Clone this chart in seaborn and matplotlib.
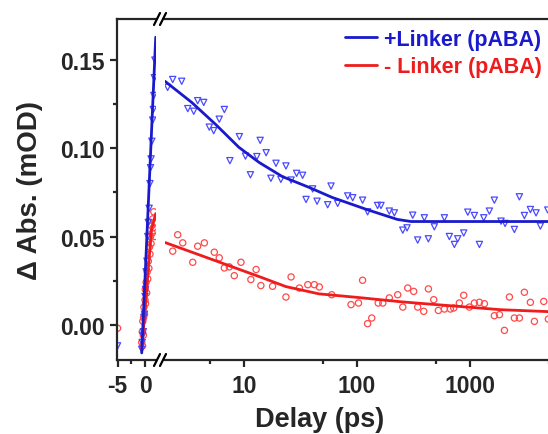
import numpy as np
import pandas as pd
import seaborn as sns
import matplotlib.pyplot as plt

# --- data ---
# rise part (linear delay axis, ps)
blue_rise_t = [-5.0, -0.6, -0.5, -0.4, -0.3, -0.2, -0.1, 0.0, 0.1, 0.2, 0.35, 0.5, 0.6, 0.75,
               0.9, 1.0, 1.1, 1.25, 1.4, 1.5, 1.6, 1.7, 1.8]
blue_rise_y = [-0.012, -0.014, -0.010, -0.006, -0.004, 0.004, 0.006, 0.016, 0.020, 0.030, 0.036,
               0.050, 0.058, 0.066, 0.080, 0.089, 0.094, 0.104, 0.116, 0.122, 0.130, 0.140, 0.150]
red_rise_t = [-5.0, -0.6, -0.5, -0.45, -0.4, -0.3, -0.25, -0.2, -0.1, 0.0, 0.05, 0.1, 0.2, 0.3,
              0.4, 0.5, 0.6, 0.7, 0.8, 0.9, 1.0, 1.1, 1.2, 1.3, 1.4, 1.5, 1.6, 1.7, 1.8]
red_rise_y = [-0.002, -0.010, -0.004, -0.012, 0.002, -0.006, 0.004, 0.010, 0.006, 0.014, 0.020,
              0.012, 0.024, 0.018, 0.030, 0.026, 0.036, 0.032, 0.044, 0.040, 0.050, 0.046, 0.056,
              0.052, 0.060, 0.055, 0.064, 0.058, 0.050]
blue_rise_fit_t = [-0.6, 1.95]
blue_rise_fit_y = [-0.016, 0.163]
red_rise_fit_t = [-0.6, 0.0, 0.6, 1.2, 1.95]
red_rise_fit_y = [-0.014, 0.008, 0.032, 0.054, 0.063]

# decay part (log delay axis, ps)
blue_t = [2.34, 2.81, 2.11, 3.89, 4.40, 3.18, 3.59, 6.70, 6.04, 4.93, 5.39, 9.1, 13.9, 15.7, 7.5,
          10.3, 13.0, 11.4, 19.2, 23.5, 17.3, 21.2, 29.2, 33.0, 26.1, 40.5, 58.9, 35.4, 44.3, 55.0,
          67.4, 82.7, 91.6, 112, 124, 152, 163, 193, 214, 254, 277, 311, 344, 394, 428, 483, 593,
          656, 727, 778, 879, 955, 1092, 1210, 1322, 1483, 1641, 1880, 2042, 2467, 2731, 3025,
          3418, 3837, 4189, 4870]
blue_y = [0.139, 0.138, 0.1345, 0.127, 0.126, 0.1225, 0.121, 0.122, 0.1165, 0.112, 0.110, 0.1066,
          0.1045, 0.0975, 0.093, 0.0956, 0.0953, 0.085, 0.0915, 0.090, 0.083, 0.0824, 0.0858,
          0.0847, 0.082, 0.077, 0.0786, 0.071, 0.070, 0.068, 0.0688, 0.073, 0.072, 0.0706, 0.064,
          0.0676, 0.0676, 0.0644, 0.0634, 0.0536, 0.0549, 0.0621, 0.048, 0.0606, 0.0487, 0.0555,
          0.0606, 0.050, 0.0455, 0.0487, 0.052, 0.0638, 0.0619, 0.0455, 0.0606, 0.0644, 0.0706,
          0.0587, 0.0574, 0.054, 0.0725, 0.0619, 0.0653, 0.0634, 0.0559, 0.065]
red_t = [2.59, 2.87, 2.34, 3.52, 3.89, 4.46, 5.46, 6.04, 6.70, 7.41, 8.21, 9.40, 11.5, 12.8, 14.1,
         17.9, 23.5, 26.1, 30.9, 36.7, 41.9, 46.4, 59.7, 88.5, 103, 112, 124, 135, 154, 169, 193,
         229, 254, 281, 317, 344, 389, 428, 477, 524, 593, 670, 717, 804, 879, 986, 1092, 1210,
         1340, 1641, 1820, 2014, 2230, 2467, 2731, 3025, 3418, 3710, 4487, 4930]
red_y = [0.051, 0.0464, 0.0417, 0.0354, 0.0445, 0.0464, 0.0411, 0.0379, 0.0322, 0.0328, 0.0278,
         0.0354, 0.0256, 0.0313, 0.0222, 0.0218, 0.0157, 0.0271, 0.0208, 0.0227, 0.0227, 0.0214,
         0.017, 0.0114, 0.0123, 0.0252, 0.0006, 0.0038, 0.0123, 0.0123, 0.0152, 0.017, 0.010,
         0.0208, 0.0189, 0.010, 0.0076, 0.0203, 0.0142, 0.0081, 0.0089, 0.0089, 0.0095, 0.0123,
         0.0167, 0.010, 0.0123, 0.0127, 0.0119, 0.0051, 0.0057, -0.0032, 0.0157, 0.0038, 0.0038,
         0.0184, 0.0127, 0.0019, 0.0132, 0.0032]
blue_fit_t = [2, 3.45, 5.6, 9, 13.6, 21.8, 37.8, 60, 122, 227, 300, 6000]
blue_fit_y = [0.138, 0.126, 0.1136, 0.1006, 0.092, 0.084, 0.0778, 0.0722, 0.0653, 0.0597, 0.0585, 0.0585]
red_fit_t = [2, 3.5, 7, 13.6, 23.5, 46, 100, 245, 600, 1880, 6000]
red_fit_y = [0.0466, 0.041, 0.034, 0.0273, 0.0216, 0.0175, 0.0155, 0.013, 0.011, 0.0085, 0.0072]

labels = ['+Linker (pABA)', '- Linker (pABA)']
blue_c = '#1a1acc'
red_c = '#ee1c1c'

sns.set_style('ticks')
plt.rcParams['font.family'] = ['Liberation Sans', 'DejaVu Sans']
plt.rcParams['font.weight'] = 'bold'

W, H = 548, 435
fig = plt.figure(figsize=(W / 100, H / 100), dpi=100)
bot, top = 1 - 361 / H, 1 - 20 / H
ax1 = fig.add_axes([117 / W, bot, 39 / W, top - bot])
ax2 = fig.add_axes([165 / W, bot, 393 / W, top - bot])

# left panel: rise
sns.scatterplot(x=red_rise_t, y=red_rise_y, ax=ax1, marker='o', s=20, facecolor='none',
                edgecolor='#ff4a4a', linewidth=0.9)
sns.scatterplot(x=blue_rise_t, y=blue_rise_y, ax=ax1, marker='v', s=20, facecolor='none',
                edgecolor='#4a4aff', linewidth=0.9)
sns.lineplot(x=red_rise_fit_t, y=red_rise_fit_y, ax=ax1, color=red_c, lw=2, sort=False, estimator=None)
sns.lineplot(x=blue_rise_fit_t, y=blue_rise_fit_y, ax=ax1, color=blue_c, lw=2, sort=False, estimator=None)

# right panel: decay
sns.scatterplot(x=blue_t, y=blue_y, ax=ax2, marker='v', s=20, facecolor='none',
                edgecolor='#4a4aff', linewidth=0.9)
sns.scatterplot(x=red_t, y=red_y, ax=ax2, marker='o', s=20, facecolor='none',
                edgecolor='#ff4a4a', linewidth=0.9)
sns.lineplot(x=blue_fit_t, y=blue_fit_y, ax=ax2, color=blue_c, lw=2, sort=False, estimator=None,
             label=labels[0])
sns.lineplot(x=red_fit_t, y=red_fit_y, ax=ax2, color=red_c, lw=2, sort=False, estimator=None,
             label=labels[1])

ylim = (-0.02, 0.1733)
for ax in (ax1, ax2):
    ax.set_ylim(*ylim)
    for s in ax.spines.values():
        s.set_linewidth(1.6)
    ax.tick_params(which='major', direction='out', length=5, width=1.6, labelsize=16.5, pad=4)
    ax.tick_params(which='minor', direction='out', length=3, width=1.6)
    ax.tick_params(axis='x', which='major', pad=5)

ax1.set_xlim(-5.1, 2.0)
ax1.spines['right'].set_visible(False)
ax1.set_xticks([-5, 0])
ax1.set_xticklabels(['-5', '0'])
ax1.set_xticks([-2.5], minor=True)
ax1.set_yticks([0, 0.05, 0.10, 0.15])
ax1.set_yticklabels(['0.00', '0.05', '0.10', '0.15'])
ax1.set_yticks([0.025, 0.075, 0.125], minor=True)
ax1.set_ylabel('Δ Abs. (mOD)', fontsize=20, fontweight='bold', labelpad=12)

ax2.set_xscale('log')
ax2.set_xlim(2, 6000)
ax2.spines['left'].set_visible(False)
ax2.spines['right'].set_visible(False)
ax2.set_xticks([10, 100, 1000])
ax2.set_xticklabels(['10', '100', '1000'])
ax2.set_xticks([5, 50, 500, 5000], minor=True)
ax2.set_xticklabels([], minor=True)
ax2.set_yticks([])
ax2.tick_params(axis='y', which='both', left=False, labelleft=False)

leg = ax2.legend(loc='upper right', bbox_to_anchor=(542 / W, 1 - 30 / H),
                 bbox_transform=fig.transFigure, frameon=False,
                 handlelength=1.45, handletextpad=0.35, labelspacing=0.3,
                 borderaxespad=0, borderpad=0, prop={'weight': 'bold', 'size': 15.5})
for txt, c in zip(leg.get_texts(), [blue_c, red_c]):
    txt.set_color(c)

fig.text(320 / W, 1 - 420 / H, 'Delay (ps)', ha='center', va='center', fontsize=19.5,
         fontweight='bold')

# axis break marks
for yy in (20, 361):
    for xx in (157, 163):
        fig.add_artist(plt.Line2D([(xx - 3) / W, (xx + 3) / W], [1 - (yy + 6) / H, 1 - (yy - 6) / H],
                                  color='black', lw=1.6))

fig.savefig('out.png', dpi=100)
